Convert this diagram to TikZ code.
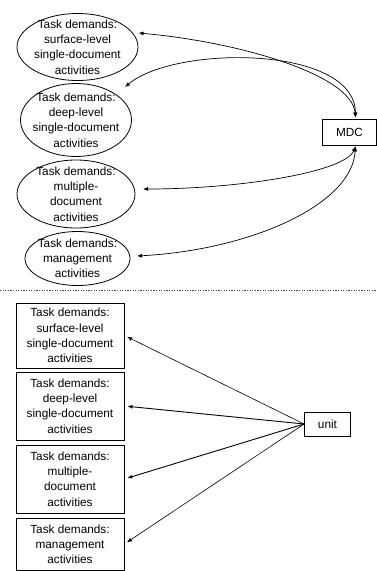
\documentclass[tikz,border=0pt]{standalone}
\usepackage{fontspec}
\setmainfont{Liberation Sans}
\usetikzlibrary{shapes.geometric,arrows.meta,calc}
\begin{document}
\begin{tikzpicture}[x=1pt,y=-1pt,
  txt/.style={font=\fontsize{11.8}{15.2}\selectfont, align=center, inner sep=0pt},
  ell/.style={draw, ellipse, line width=0.8pt, inner sep=0pt},
  tbox/.style={txt, draw, rectangle, line width=0.8pt, minimum width=108pt},
  arr/.style={line width=0.7pt, {Latex[length=5pt,width=4pt]}-{Latex[length=5pt,width=4pt]}},
  sarr/.style={line width=0.6pt, -{Latex[length=5pt,width=4pt]}, shorten >=3pt}
]
\useasboundingbox (0,0) rectangle (377,571);
% top half
\node[ell, minimum width=121pt, minimum height=67pt] (e1) at (77.5,47) {};
\node[txt] (t1) at (e1.center) {Task demands:\\surface-level\\single-document\\activities};
\node[ell, minimum width=111pt, minimum height=73pt] (e2) at (76,120) {};
\node[txt] (t2) at (e2.center) {Task demands:\\deep-level\\single-document\\activities};
\node[ell, minimum width=118pt, minimum height=68pt] (e3) at (76,194) {};
\node[txt] (t3) at (e3.center) {Task demands:\\multiple-\\document\\activities};
\node[ell, minimum width=105pt, minimum height=54pt] (e4) at (77.5,258.5) {};
\node[txt] (t4) at (e4.center) {Task demands:\\management\\activities};
\node[txt, draw, line width=0.8pt, minimum width=54pt, minimum height=26pt] (mdc) at (349.5,132) {MDC};
\coordinate (mt) at ($(mdc.north)+(6,-1)$);
\coordinate (mb) at ($(mdc.south)+(6,1)$);
\coordinate (a1) at (138.5,33);
\coordinate (a2) at (125,87);
\coordinate (a3) at (143,189);
\coordinate (a4) at (137,256);
\draw[arr] (a1) .. controls (240,42) and (352,75) .. (mt);
\draw[arr] (a2) .. controls (175,45) and (355,45) .. (mt);
\draw[arr] (a3) .. controls (240,189) and (345,172) .. (mb);
\draw[arr] (a4) .. controls (250,250) and (352,205) .. (mb);
% separator
\draw[line width=0.7pt, dash pattern=on 1.2pt off 1.4pt, black!75] (0,290) -- (377,290);
% bottom half
\node[tbox, minimum height=65pt] (b1) at (70,335.5) {Task demands:\\surface-level\\single-document\\activities};
\node[tbox, minimum height=68pt] (b2) at (70,406) {Task demands:\\deep-level\\single-document\\activities};
\node[tbox, minimum height=68pt] (b3) at (70,479) {Task demands:\\multiple-\\document\\activities};
\node[tbox, minimum height=52pt] (b4) at (70,544) {Task demands:\\management\\activities};
\node[txt, draw, line width=0.8pt, minimum width=46pt, minimum height=24pt] (unit) at (327.5,424) {unit};
\draw[sarr] (unit.west) -- (b1.east);
\draw[sarr, line width=0.9pt] (unit.west) -- (b2.east);
\draw[sarr, line width=0.9pt] (unit.west) -- (b3.east);
\draw[sarr] (unit.west) -- (b4.east);
\end{tikzpicture}
\end{document}
